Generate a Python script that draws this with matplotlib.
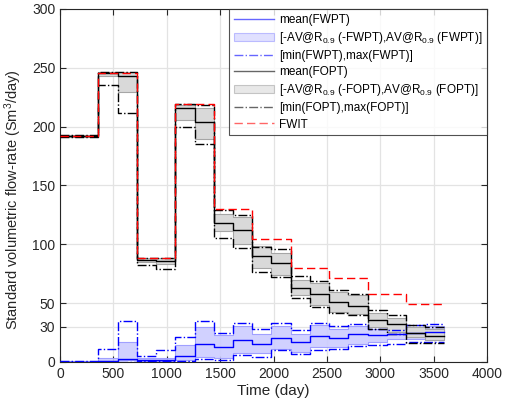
import numpy as np
import matplotlib.pyplot as plt

plt.rcParams["font.family"] = ["Liberation Sans", "DejaVu Sans"]
plt.rcParams["mathtext.default"] = "regular"

# report step edges (days), 180-day control intervals
edges = np.arange(0, 3601, 180)

# field oil production rate statistics per interval
fopt_mean = [192, 192, 246, 243, 87, 86, 216, 204, 118, 112,
             90, 84, 62.5, 58, 51, 47.5, 35.5, 32.1, 25, 22.2]
fopt_lo = [191.5, 191.5, 242.7, 229.3, 85, 83, 206, 189.5, 111, 100,
           79.5, 74, 56.8, 48.3, 42.6, 40.6, 29.8, 25.6, 21, 18.5]
fopt_hi = [192.5, 192.5, 246.6, 246.6, 88, 88, 218, 216, 126, 123,
           98.6, 92.3, 69.6, 67.3, 59.7, 56.8, 41.2, 37, 29.8, 27.9]
fopt_min = [191, 191, 235, 211.7, 82, 78.7, 199.4, 185.5, 105.7, 96.6,
            76.7, 72.4, 54, 46.9, 41.2, 39.8, 28.4, 23.6, 15.7, 15.7]
fopt_max = [192.5, 192.5, 246.6, 246.6, 88.5, 88.5, 219.6, 218, 129, 125,
            98, 95.7, 73, 68.8, 61, 57.7, 44, 39.8, 31.3, 29.3]

# field water production rate statistics per interval
fwpt_mean = [0.3, 0.3, 0.9, 2.8, 2, 1.4, 4.8, 15.6, 12.8, 18.5,
             15.6, 20.7, 17, 21.9, 20.7, 24.1, 22.7, 24.1, 24.7, 25.6]
fwpt_lo = [0, 0, 0.5, 1.4, 0.9, 0.5, 2, 4.3, 3.7, 7.7,
           7.7, 11.4, 8.5, 12.8, 12.8, 15.6, 17, 19.9, 19.9, 19.5]
fwpt_hi = [0.5, 0.5, 3.7, 17, 3.7, 3.7, 14.2, 29.8, 22.7, 30.4,
           24.1, 30.4, 24.1, 31.3, 28.4, 30.4, 28.4, 26.4, 29.8, 30.5]
fwpt_min = [0, 0, 0, 0, 1, 0.5, 1, 2.8, 1.4, 5.7,
            4.3, 9.9, 6.5, 10.5, 11.4, 13.4, 14.2, 15.6, 17, 17]
fwpt_max = [0.5, 0.5, 11.4, 34.7, 4.8, 10, 21.3, 34.7, 24.7, 33.2,
            28.4, 32.7, 27, 33.2, 30.4, 32.1, 28.4, 27, 31.3, 32.1]

# yearly water injection rate
fwit_year = [192, 246, 88.5, 219, 130, 104.5, 80, 71.6, 57.7, 48.9]
fwit = np.repeat(fwit_year, 2)


def post(v):
    return np.append(v, v[-1])


fig = plt.figure(figsize=(5.09, 4.09), dpi=100)
ax = fig.add_axes([0.118, 0.115, 0.839, 0.863])

blue = "#0000ff"
ax.step(edges, post(fwpt_mean), where="post", color=blue, lw=1.0,
        label="mean(FWPT)", zorder=4)
ax.fill_between(edges, post(fwpt_lo), post(fwpt_hi), step="post",
                facecolor="#ccccff", edgecolor="#9999ff", lw=0.8, alpha=0.9,
                label="[-AV@R$_{0.9}$ (-FWPT),AV@R$_{0.9}$ (FWPT)]", zorder=2)
ax.step(edges, post(fwpt_min), where="post", color=blue, lw=1.0, ls="-.",
        label="[min(FWPT),max(FWPT)]", zorder=3)
ax.step(edges, post(fwpt_max), where="post", color=blue, lw=1.0, ls="-.",
        zorder=3)

ax.step(edges, post(fopt_mean), where="post", color="black", lw=1.0,
        label="mean(FOPT)", zorder=4)
ax.fill_between(edges, post(fopt_lo), post(fopt_hi), step="post",
                facecolor="#d9d9d9", edgecolor="#a6a6a6", lw=0.8,
                label="[-AV@R$_{0.9}$ (-FOPT),AV@R$_{0.9}$ (FOPT)]", zorder=2)
ax.step(edges, post(fopt_min), where="post", color="black", lw=1.0, ls="-.",
        label="[min(FOPT),max(FOPT)]", zorder=3)
ax.step(edges, post(fopt_max), where="post", color="black", lw=1.0, ls="-.",
        zorder=3)

ax.step(edges, post(fwit), where="post", color="#ff0000", lw=1.0,
        ls=(0, (6, 3)), label="FWIT", zorder=5)

ax.set_xlim(0, 4000)
ax.set_ylim(0, 300)
ax.set_xticks(np.arange(0, 4001, 500))
ax.set_yticks([0, 30, 50, 100, 150, 200, 250, 300])
ax.grid(True, color="#e3e3e3", lw=0.9)
ax.set_axisbelow(True)
ax.tick_params(direction="in", top=True, right=True, labelsize=10,
               colors="#262626", length=4)
for s in ax.spines.values():
    s.set_color("#262626")
    s.set_linewidth(0.8)

ax.set_xlabel("Time (day)", fontsize=11, color="#262626", labelpad=2)
ax.set_ylabel("Standard volumetric flow-rate (Sm$^3$/day)", fontsize=10.5,
              color="#262626", labelpad=5)
ax.yaxis.set_label_coords(-0.085, 0.46)

leg = ax.legend(loc="upper right", fontsize=8.5, frameon=True, fancybox=False,
                borderaxespad=0, handlelength=3.4, labelspacing=0.35,
                borderpad=0.4, handletextpad=0.4)
leg.get_frame().set_edgecolor("#262626")
leg.get_frame().set_linewidth(0.8)
for h in leg.legend_handles:
    h.set_alpha(0.6)

fig.savefig("out.png", dpi=100)
